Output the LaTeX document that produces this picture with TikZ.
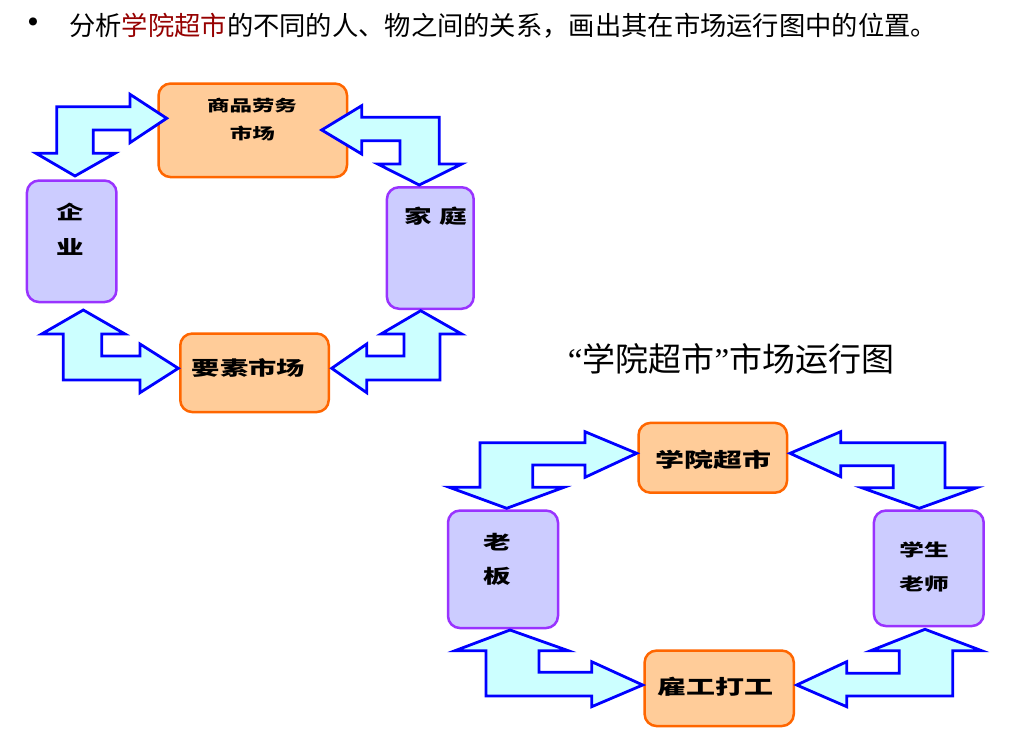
\documentclass[tikz,border=0pt]{standalone}
\usepackage{fontspec}
\usepackage{graphicx}
\newfontfamily\cjk{Noto Sans CJK SC}
\newfontfamily\qf{Liberation Serif}
\definecolor{peach}{HTML}{FFCC99}
\definecolor{orangeb}{HTML}{FF6600}
\definecolor{lav}{HTML}{CCCCFF}
\definecolor{purpb}{HTML}{9933FF}
\definecolor{cyanf}{HTML}{CCFFFF}
\definecolor{blueb}{HTML}{0000FF}
\definecolor{dred}{HTML}{960000}
\newcommand\bk[2]{\scalebox{1.45}[1]{\fontsize{#1}{#1}\selectfont\cjk\bfseries #2}}
\tikzset{
  pbox/.style={draw=orangeb,fill=peach,line width=2.5pt,rounded corners=12pt,inner sep=0pt},
  lbox/.style={draw=purpb,fill=lav,line width=2.5pt,rounded corners=12pt,inner sep=0pt},
  blockarrow/.style={draw=blueb,fill=cyanf,line width=2.8pt,line join=miter},
  lbl/.style={inner sep=0pt,text=black}
}
\begin{document}
\begin{tikzpicture}[x=1pt,y=-1pt]
\useasboundingbox[fill=white] (0,0) rectangle (1009,733);
% header
\node[lbl] (bul) at (33,25) {\fontsize{36}{36}\selectfont\textbullet};
\node[lbl,anchor=west] (head) at (69,26) {\fontsize{26.3}{26.3}\selectfont\cjk 分析\textcolor{dred}{学院超市}的不同的人、物之间的关系，画出其在市场运行图中的位置。};
% title of second diagram
\node[lbl] (title) at (731,359) {\fontsize{33}{33}\selectfont{\qf “}{\cjk 学院超市}{\qf ”}{\cjk 市场运行图}};
% ---------- diagram 1 boxes
\node[pbox,minimum width=188.5pt,minimum height=93.5pt] (goods) at (252.8,130.3) {};
\node[lbox,minimum width=89.5pt,minimum height=121.5pt] (firm) at (71.7,241.3) {};
\node[lbox,minimum width=86.8pt,minimum height=121.5pt] (home) at (430.3,248) {};
\node[pbox,minimum width=148.5pt,minimum height=78.5pt] (factor) at (254.5,372.8) {};
% ---------- diagram 2 boxes
\node[pbox,minimum width=148.5pt,minimum height=69.8pt] (super) at (712.8,457.8) {};
\node[lbox,minimum width=110pt,minimum height=117.5pt] (boss) at (503,569.3) {};
\node[lbox,minimum width=109.8pt,minimum height=115.5pt] (stud) at (928.8,568.3) {};
\node[pbox,minimum width=149.2pt,minimum height=75.5pt] (labor) at (719.2,688.3) {};
% ---------- diagram 1 arrows
\draw[blockarrow] (75,176) -- (115,153.3) -- (93.3,153.3) -- (93.3,130) -- (130,130) -- (130,142.7) -- (166.7,118.3) -- (130,94.3) -- (130,106.7) -- (56.7,106.7) -- (56.7,153.3) -- (36,153.3) -- cycle;
\draw[blockarrow] (321.7,130) -- (361.7,105.7) -- (361.7,117.3) -- (439.3,117.3) -- (439.3,164) -- (461.7,164) -- (419.3,185) -- (377.7,164) -- (400,164) -- (400,140.7) -- (361.7,140.7) -- (361.7,154) -- cycle;
\draw[blockarrow] (83.3,310) -- (125,334) -- (101.7,334) -- (101.7,356) -- (140,356) -- (140,344) -- (178.3,368.3) -- (140,392.7) -- (140,380) -- (63.3,380) -- (63.3,334) -- (41.7,334) -- cycle;
\draw[blockarrow] (420.7,310.7) -- (461.7,334) -- (440,334) -- (440,380) -- (366.7,380) -- (366.7,392.7) -- (331.7,368.3) -- (366.7,344) -- (366.7,356) -- (404,356) -- (404,334) -- (381,334) -- cycle;
% ---------- diagram 2 arrows
\draw[blockarrow] (506.7,508.3) -- (564,487.3) -- (532.7,487.3) -- (532.7,465) -- (585,465) -- (585,477.3) -- (636.7,453.3) -- (585,431.7) -- (585,442.7) -- (480,442.7) -- (480,487.3) -- (449.3,487.3) -- cycle;
\draw[blockarrow] (790,453.3) -- (840.7,431.7) -- (840.7,442.7) -- (945,442.7) -- (945,487.7) -- (976.7,487.7) -- (919.3,508.3) -- (861.7,487.7) -- (893.3,487.7) -- (893.3,465.7) -- (840.7,465.7) -- (840.7,476.7) -- cycle;
\draw[blockarrow] (510,630) -- (568.3,650.7) -- (539,650.7) -- (539,672.3) -- (591.7,672.3) -- (591.7,661.7) -- (642.7,685) -- (591.7,706.7) -- (591.7,696) -- (486,696) -- (486,650.7) -- (455,650.7) -- cycle;
\draw[blockarrow] (925,629.3) -- (981.7,650.7) -- (952.7,650.7) -- (952.7,696) -- (846.7,696) -- (846.7,706.7) -- (796.7,685) -- (846.7,661.7) -- (846.7,673.3) -- (899.3,673.3) -- (899.3,650.7) -- (870.7,650.7) -- cycle;
% ---------- labels diagram 1
\node[lbl] (goodsA) at (252,105.5) {\bk{15.5}{商品劳务}};
\node[lbl] (goodsB) at (252.3,133) {\bk{15.5}{市场}};
\node[lbl] (firmA) at (70,211.7) {\bk{19}{企}};
\node[lbl] (firmB) at (70,246.7) {\bk{19}{业}};
\node[lbl] (homeA) at (436,216) {\bk{19}{家\hspace{5pt}庭}};
\node[lbl] (factorA) at (248.3,368.3) {\bk{19.5}{要素市场}};
% ---------- labels diagram 2
\node[lbl] (superA) at (713.3,459.3) {\bk{20}{学院超市}};
\node[lbl] (bossA) at (497.3,541.7) {\bk{19}{老}};
\node[lbl] (bossB) at (497.3,576.7) {\bk{19}{板}};
\node[lbl] (studA) at (924,550) {\bk{17}{学生}};
\node[lbl] (studB) at (924,584) {\bk{17}{老师}};
\node[lbl] (laborA) at (715,686.7) {\bk{20}{雇工打工}};
\end{tikzpicture}
\end{document}
